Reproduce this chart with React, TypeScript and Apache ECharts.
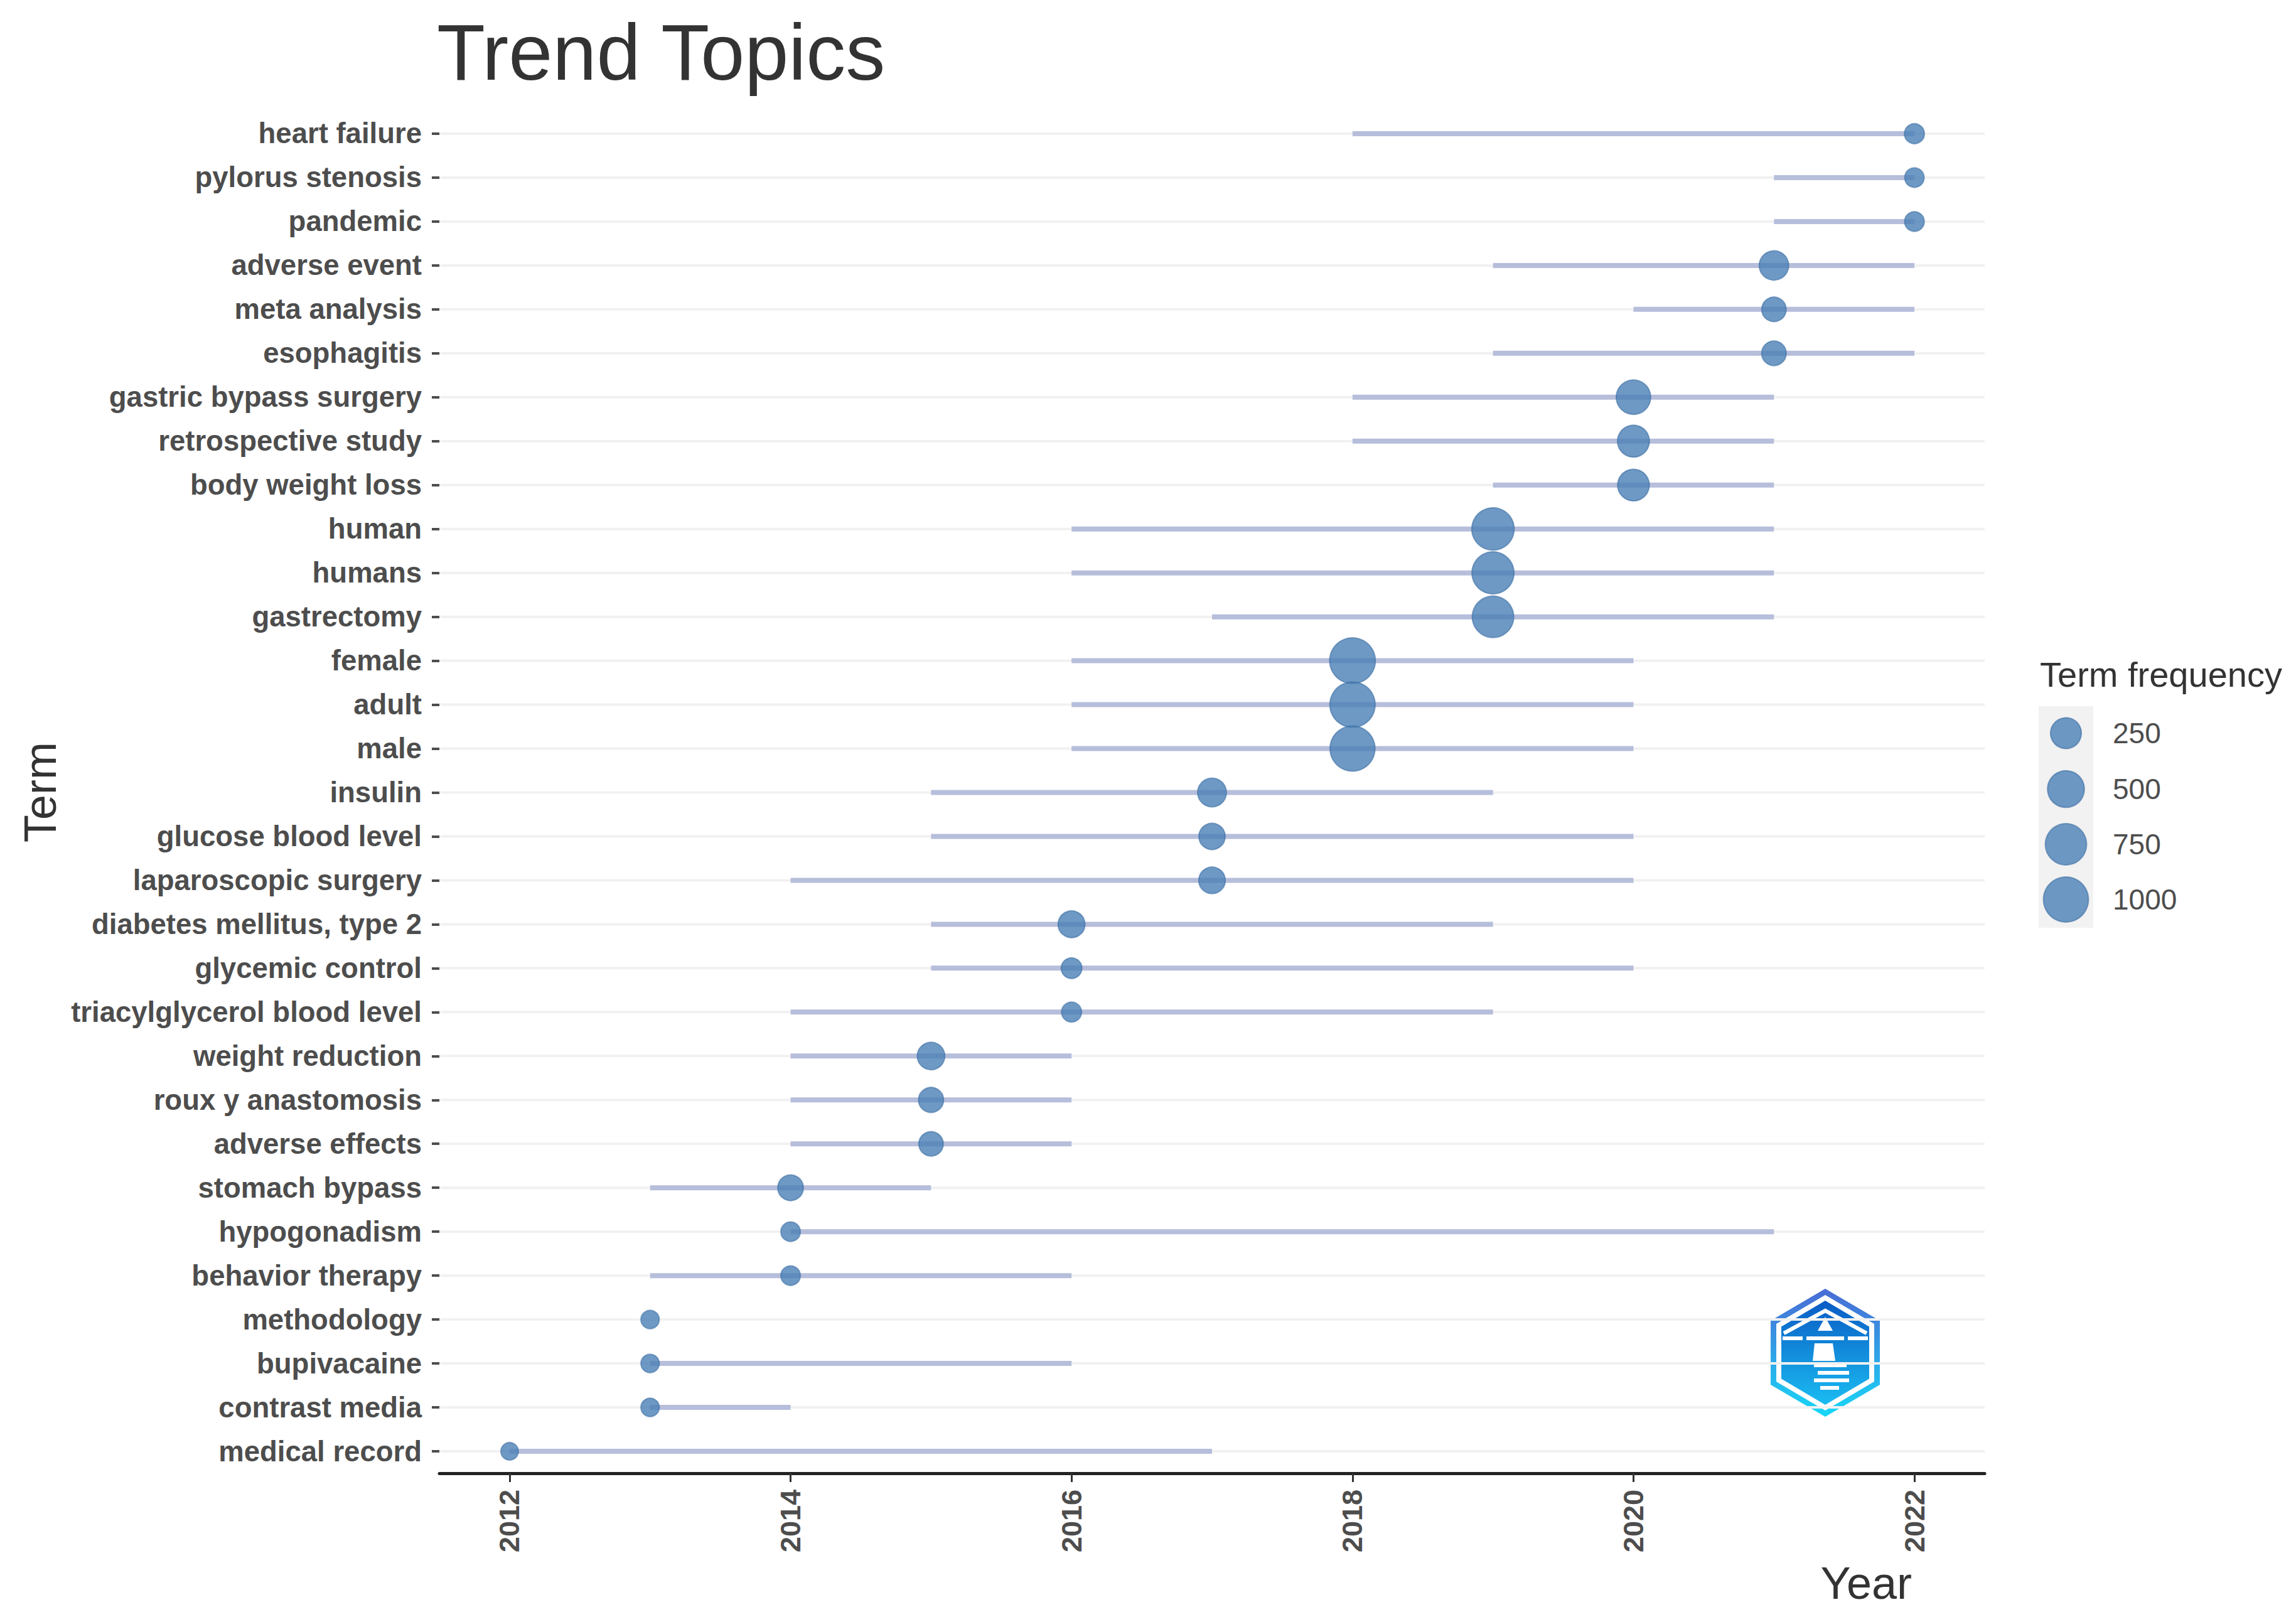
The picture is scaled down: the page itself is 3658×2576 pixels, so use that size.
import React, { useEffect, useRef } from "react";
import * as echarts from "echarts";

// ---- data (top to bottom as in the chart) ----
const terms = [
  "heart failure", "pylorus stenosis", "pandemic", "adverse event", "meta analysis",
  "esophagitis", "gastric bypass surgery", "retrospective study", "body weight loss",
  "human", "humans", "gastrectomy", "female", "adult", "male", "insulin",
  "glucose blood level", "laparoscopic surgery", "diabetes mellitus, type 2",
  "glycemic control", "triacylglycerol blood level", "weight reduction",
  "roux y anastomosis", "adverse effects", "stomach bypass", "hypogonadism",
  "behavior therapy", "methodology", "bupivacaine", "contrast media", "medical record",
];
const yearQ1 = [2018, 2021, 2021, 2019, 2020, 2019, 2018, 2018, 2019, 2016, 2016, 2017, 2016, 2016, 2016, 2015, 2015, 2014, 2015, 2015, 2014, 2014, 2014, 2014, 2013, 2014, 2013, 2013, 2013, 2013, 2012];
const yearMedian = [2022, 2022, 2022, 2021, 2021, 2021, 2020, 2020, 2020, 2019, 2019, 2019, 2018, 2018, 2018, 2017, 2017, 2017, 2016, 2016, 2016, 2015, 2015, 2015, 2014, 2014, 2014, 2013, 2013, 2013, 2012];
const yearQ3 = [2022, 2022, 2022, 2022, 2022, 2022, 2021, 2021, 2021, 2021, 2021, 2021, 2020, 2020, 2020, 2019, 2020, 2020, 2019, 2020, 2019, 2016, 2016, 2016, 2015, 2021, 2016, 2013, 2016, 2014, 2017];
const termFreq = [28, 25, 26, 204, 82, 85, 391, 289, 280, 820, 800, 760, 1050, 1020, 1000, 185, 120, 125, 134, 33, 28, 150, 93, 82, 106, 25, 25, 21, 21, 21, 20];
const yearTicks = [2012, 2014, 2016, 2018, 2020, 2022];
const legendValues = [250, 500, 750, 1000];

const FONT = "'Liberation Sans', Arial, Helvetica, sans-serif";
const POINT_FILL = "rgba(74,128,181,0.8)";
const POINT_BORDER = "rgba(55,105,160,0.55)";

const F_MIN = 20, F_MAX = 1050, D_MIN = 28, D_MAX = 73;
function sizeFn(v: number) {
  const t = Math.max(0, Math.min(1, (v - F_MIN) / (F_MAX - F_MIN)));
  return D_MIN + (D_MAX - D_MIN) * Math.sqrt(t);
}

function hex(cx: number, cy: number, hw: number, hh: number) {
  return [
    [cx, cy - hh],
    [cx + hw, cy - hh / 2],
    [cx + hw, cy + hh / 2],
    [cx, cy + hh],
    [cx - hw, cy + hh / 2],
    [cx - hw, cy - hh / 2],
  ];
}

export default function App() {
  const ref = useRef<HTMLDivElement>(null);

  useEffect(() => {
    if (!ref.current) return;
    const chart = echarts.init(ref.current, null, { renderer: "svg" });

    const segData = terms.map((_, i) => [yearQ1[i], yearQ3[i], i]);
    const pointData = terms.map((_, i) => [yearMedian[i], i, termFreq[i]]);

    // legend graphics
    const legX = 3248, legY = 1125, legW = 87, legH = 353;
    const legCenters = [1168, 1257, 1345, 1433];
    const legendGraphics: any[] = [
      {
        type: "text", left: 3250, top: 1046,
        style: { text: "Term frequency", font: `56px ${FONT}`, fill: "#333333" },
      },
      { type: "rect", shape: { x: legX, y: legY, width: legW, height: legH }, style: { fill: "#f2f2f2" } },
    ];
    legendValues.forEach((v, k) => {
      legendGraphics.push({
        type: "circle",
        shape: { cx: legX + legW / 2, cy: legCenters[k], r: sizeFn(v) / 2 },
        style: { fill: POINT_FILL, stroke: POINT_BORDER, lineWidth: 2 },
      });
      legendGraphics.push({
        type: "text", x: 3366, y: legCenters[k],
        style: { text: String(v), font: `46px ${FONT}`, fill: "#4d4d4d", verticalAlign: "middle", align: "left" },
      });
    });

    // logo
    const cx = 2908, cy = 2155;
    const grad = (a: string, b: string) =>
      new echarts.graphic.LinearGradient(0, 0, 0, 1, [
        { offset: 0, color: a },
        { offset: 1, color: b },
      ]);
    const logo: any[] = [
      { type: "polygon", shape: { points: hex(cx, cy, 87, 102) }, style: { fill: grad("#4a6bd4", "#17d8f8") } },
      { type: "polygon", shape: { points: hex(cx, cy, 78, 92) }, style: { fill: "#ffffff" } },
      { type: "polygon", shape: { points: hex(cx, cy, 70, 83) }, style: { fill: grad("#0a5cc4", "#1bbcf2") } },
      { type: "polyline", shape: { points: [[2842, 2124], [2908, 2088], [2974, 2124]] }, style: { stroke: "#ffffff", lineWidth: 6, fill: null } },
      { type: "polygon", shape: { points: [[2896, 2120], [2908, 2098], [2920, 2120]] }, style: { fill: "#ffffff" } },
      { type: "rect", shape: { x: 2840, y: 2129, width: 32, height: 6 }, style: { fill: "#ffffff" } },
      { type: "rect", shape: { x: 2878, y: 2129, width: 60, height: 6 }, style: { fill: "#ffffff" } },
      { type: "rect", shape: { x: 2944, y: 2129, width: 32, height: 6 }, style: { fill: "#ffffff" } },
      { type: "polygon", shape: { points: [[2891, 2140], [2920, 2140], [2924, 2168], [2888, 2168]] }, style: { fill: "#ffffff" } },
      { type: "rect", shape: { x: 2890, y: 2172, width: 52, height: 6 }, style: { fill: "#ffffff" } },
      { type: "rect", shape: { x: 2896, y: 2184, width: 50, height: 6 }, style: { fill: "#ffffff" } },
      { type: "rect", shape: { x: 2890, y: 2196, width: 56, height: 6 }, style: { fill: "#ffffff" } },
      { type: "rect", shape: { x: 2900, y: 2208, width: 30, height: 6 }, style: { fill: "#ffffff" } },
    ];

    const option: any = {
      animation: false,
      backgroundColor: "#ffffff",
      title: {
        text: "Trend Topics",
        left: 696,
        top: 20,
        padding: 0,
        textStyle: { fontFamily: FONT, fontSize: 126, fontWeight: "normal", color: "#333333" },
      },
      grid: {
        left: 700,
        top: 178,
        width: 2462,
        height: 2169,
        containLabel: false,
        outerBoundsMode: "none",
      },
      xAxis: {
        type: "value",
        min: 2011.5,
        max: 2022.5,
        axisLine: { show: true, lineStyle: { color: "#222222", width: 5 } },
        axisTick: { show: true, length: 14, customValues: yearTicks, lineStyle: { color: "#333333", width: 3 } },
        axisLabel: {
          customValues: yearTicks,
          rotate: 90,
          margin: 26,
          fontFamily: FONT,
          fontSize: 45,
          fontWeight: "bold",
          color: "#4d4d4d",
          formatter: (v: number) => String(v),
        },
        splitLine: { show: false },
      },
      yAxis: {
        type: "category",
        data: terms,
        inverse: true,
        axisLine: { show: false },
        axisTick: { show: true, alignWithLabel: true, length: 12, lineStyle: { color: "#4d4d4d", width: 4 } },
        axisLabel: {
          margin: 28,
          fontFamily: FONT,
          fontSize: 45.5,
          fontWeight: "bold",
          color: "#4d4d4d",
        },
        splitLine: { show: false },
      },
      series: [
        {
          type: "custom",
          data: segData,
          encode: { x: [0, 1], y: 2 },
          z: 1,
          renderItem: (params: any, api: any) => {
            const cat = api.value(2);
            const p1 = api.coord([api.value(0), cat]);
            const p2 = api.coord([api.value(1), cat]);
            const cs = params.coordSys;
            return {
              type: "group",
              children: [
                {
                  type: "line",
                  shape: { x1: cs.x, y1: p1[1], x2: cs.x + cs.width, y2: p1[1] },
                  style: { stroke: "#f1f1f1", lineWidth: 4 },
                },
                {
                  type: "line",
                  shape: { x1: p1[0], y1: p1[1], x2: p2[0], y2: p2[1] },
                  style: { stroke: "#b6bedb", lineWidth: 8, lineCap: "butt" },
                },
              ],
            };
          },
        },
        {
          type: "scatter",
          data: pointData,
          encode: { x: 0, y: 1 },
          z: 3,
          symbol: "circle",
          symbolSize: (val: number[]) => sizeFn(val[2]),
          itemStyle: { color: POINT_FILL, borderColor: POINT_BORDER, borderWidth: 2, opacity: 1 },
        },
      ],
      graphic: [
        {
          type: "text",
          x: 64,
          y: 1262,
          rotation: Math.PI / 2,
          style: { text: "Term", font: `72px ${FONT}`, fill: "#333333", align: "center", verticalAlign: "middle" },
        },
        {
          type: "text",
          x: 3046,
          y: 2522,
          style: { text: "Year", font: `72px ${FONT}`, fill: "#333333", align: "right", verticalAlign: "middle" },
        },
        ...legendGraphics,
        ...logo,
      ],
    };

    chart.setOption(option);
    return () => chart.dispose();
  }, []);

  return (
    <div
      ref={ref}
      style={{ position: "fixed", left: 0, top: 0, width: 3658, height: 2576, background: "#ffffff" }}
    />
  );
}
